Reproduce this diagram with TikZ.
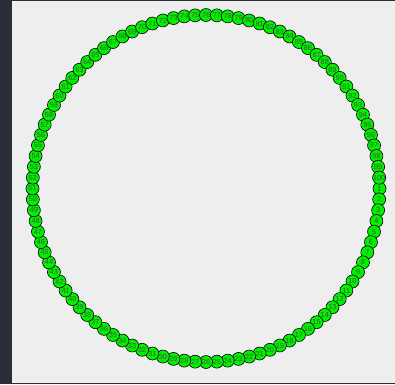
\documentclass[tikz,border=0pt]{standalone}
\usepackage{fontspec}
\setmainfont{Liberation Sans}
\pgfdeclarelayer{bg}
\pgfsetlayers{bg,main}
\definecolor{bgcol}{HTML}{EEEEEE}
\definecolor{darkbar}{HTML}{2B2E36}
\definecolor{nodegreen}{HTML}{00F000}
\begin{document}
\begin{tikzpicture}[x=1pt,y=-1pt,
  vnode/.style={circle,draw=black,fill=nodegreen,line width=0.6pt,minimum size=13pt,inner sep=0pt,font=\fontsize{7.3}{8}\selectfont,text=black!70},
  link/.style={draw=black!60,line width=1.4pt}]
\useasboundingbox (0,0) rectangle (395,384);
\fill[bgcol] (0,0) rectangle (395,384);
\fill[darkbar] (0,0) rectangle (12,384);
\fill[darkbar] (12,0) rectangle (395,1.2);
\fill[darkbar] (12,382.5) rectangle (395,384);
\foreach \i in {1,...,100} {
  \node[vnode] (n\i) at ({206+173.5*cos((\i-1)*3.6)}, {188.5+173.5*sin((\i-1)*3.6)}) {\i};
}
\begin{pgfonlayer}{bg}
\foreach \i [evaluate=\i as \j using {int(mod(\i,100)+1)}] in {1,...,100} {
  \draw[link] (n\i) -- (n\j);
}
\end{pgfonlayer}
\end{tikzpicture}
\end{document}
